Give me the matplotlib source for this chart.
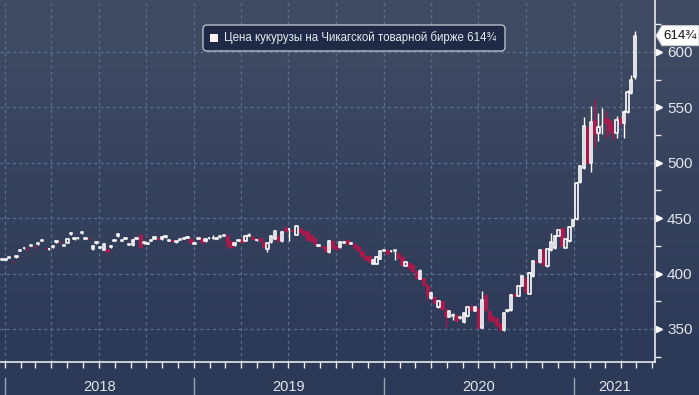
import matplotlib
matplotlib.use('Agg')
import matplotlib.pyplot as plt
import matplotlib.dates as mdates
import matplotlib.ticker as mticker
from matplotlib.patches import Rectangle, FancyBboxPatch, Polygon
from matplotlib.collections import PatchCollection
import numpy as np
import pandas as pd

# ---------------- data (weekly OHLC) ----------------
start_date = '2017-12-27'
opens = [412.4, 412.4, 414.5, 410.8, 415, 420.5, 423, 422.2, 425, 424.2,
         426.8, 429.5, 423.2, 422, 424, 428.6, 428.8, 425, 428, 435.8,
         431.3, 432, 436.7, 431.3, 431.5, 422, 427.6, 423.4, 421.5, 422,
         424, 429.5, 433.5, 429.7, 431.3, 426, 425.5, 431.3, 434.5, 427.6,
         426.8, 429.7, 431.3, 432, 431, 433, 429.7, 429.9, 428.6, 430.6,
         431.5, 432.4, 431.3, 427, 431.5, 432, 429, 432, 432, 431.5,
         433, 434.3, 434.3, 429, 425.5, 429.7, 431.3, 429.7, 434.3, 433,
         430, 432, 428.6, 422, 428.6, 431.5, 434, 429, 441, 440,
         439.5, 435, 441, 438, 438, 435, 432, 425, 424.2, 424.6,
         419.6, 429.7, 424.6, 424, 428, 430, 427, 427, 424.6, 420,
         415.5, 416, 409, 409, 413.4, 420.7, 421.6, 420, 420, 418.7,
         415, 407, 409.6, 408, 402, 395.5, 396, 390, 378, 379,
         369.6, 375, 366, 361, 362, 363, 360, 356, 361.6, 371,
         366.4, 369, 351, 381, 366, 361.5, 360, 355, 349, 366,
         367, 382, 380, 389, 396, 382, 397.6, 411, 410, 422,
         406.4, 421, 423, 434, 441, 423.4, 429, 442.6, 449, 482.8,
         495, 532.7, 500, 538.7, 527, 533, 540, 538.7, 530, 527.3,
         540, 536.3, 546.2, 563.4, 577]
closes = [412.4, 412.4, 414.8, 410.5, 415.3, 420.7, 423.3, 422, 425.3, 424,
          427, 429.7, 423, 422.2, 424.2, 428.8, 428.6, 425.2, 431, 436,
          431.5, 432.2, 436.9, 431.5, 431.3, 425, 427.8, 423.6, 427, 419.8,
          424.2, 429.7, 435.5, 429.9, 431.5, 426.2, 430.6, 431.5, 424, 427.8,
          427, 429.9, 433, 431, 433, 433.2, 429.9, 429.7, 428.8, 430.8,
          431.7, 432.6, 428, 427.2, 431.7, 428.6, 431.5, 432.2, 432.3, 431.7,
          433.2, 434.5, 427.6, 424, 428, 429.9, 428.6, 434.3, 434.8, 431.5,
          430.2, 429.5, 424.3, 427.6, 433.7, 438.7, 429.7, 437.6, 438, 440.3,
          438.5, 442.6, 437.6, 435, 430.6, 429.7, 426.8, 425.2, 424, 420,
          429.7, 423, 422, 428.6, 428.2, 427, 428, 423.4, 420, 415.5,
          412.6, 410.5, 412.6, 415, 420.7, 420.9, 418, 420.3, 421, 414,
          408, 410.5, 405, 402, 396, 402, 390, 381, 382.6, 373.6,
          375.6, 367.6, 361.6, 366, 363, 357.5, 360.3, 364, 369.6, 367,
          370, 351, 376.6, 367, 358.6, 357, 353, 349.5, 364, 367,
          381, 380, 389, 397.6, 383.3, 400.6, 411, 410, 421.6, 408,
          422, 428.6, 433.7, 439, 425.2, 431, 442, 448.6, 482, 496.7,
          533.3, 499.8, 537.2, 526, 532, 533.5, 536.3, 529.7, 528, 538.7,
          536, 546.2, 564.2, 574.8, 614.75]
highs = [413, 413, 415.5, 411.5, 416, 421.5, 424, 423, 426, 425,
         427.5, 430.5, 424, 423, 425, 429.5, 429.5, 426, 431.5, 436.5,
         432, 433, 437.5, 432, 432, 425.5, 428.5, 424, 427.5, 422.5,
         425, 430.5, 436, 430.5, 432, 427, 431, 432, 436.8, 428.5,
         427.5, 430.5, 433.5, 432.5, 433.5, 434, 430.5, 430.5, 429.5, 431.5,
         432.5, 433.5, 432, 428, 432.5, 432.5, 432, 433, 435, 432.5,
         434, 435, 436, 429.5, 428.5, 430.5, 431.8, 434.8, 437, 433.5,
         431, 432.5, 429, 428, 434.2, 439.2, 434.5, 438, 443, 441,
         440, 443, 441.5, 438.5, 438.5, 435.5, 432.5, 426, 425, 425,
         430.2, 430.2, 425, 429, 429, 430.5, 428.5, 427.5, 425, 420.5,
         416, 417, 413, 415.5, 421.2, 421.5, 422, 421, 421.6, 419.2,
         415.5, 411, 410, 408.5, 402.5, 404.2, 396.5, 390.5, 383, 379.5,
         376, 375.5, 369, 366.5, 364, 363.5, 361, 364.5, 370, 371.5,
         370.5, 369.5, 384.6, 381.5, 366.5, 362, 360.5, 355.5, 364.5, 368,
         381.5, 382.5, 389.5, 398, 396.5, 401, 411.5, 411.5, 422, 422.5,
         422.5, 437, 434.2, 439.5, 441.5, 431.5, 442.5, 449, 483, 497.5,
         541.4, 533.5, 551, 557.7, 545, 549, 547, 541, 536, 542,
         541, 548, 566, 579, 619]
lows = [412, 412, 414, 410, 414.5, 420, 422.5, 421.5, 424.5, 423.5,
        426, 429, 422.5, 421.5, 423.5, 428, 428, 424.5, 427.5, 435,
        430.5, 431.5, 436, 430.8, 430.8, 421.5, 427, 423, 421, 419.5,
        423.5, 429, 433, 429, 430.8, 425.5, 425, 430.8, 423.4, 427,
        426.3, 429, 431, 430.5, 430.5, 432.5, 429, 429, 428, 430,
        431, 432, 427.5, 426.5, 431, 426.5, 428.5, 431.5, 431.5, 431,
        432.5, 433.8, 423.4, 423.5, 425, 429, 428, 429.2, 434, 431,
        429.5, 429, 423.8, 419.5, 428, 431, 429.2, 428.5, 437.5, 429,
        438, 434.5, 437, 434.5, 430, 429.2, 426.3, 424.5, 423.5, 419.5,
        419, 422.5, 421.5, 423.5, 427.5, 426.5, 426.5, 423, 419.5, 415,
        412, 410, 408.5, 408.5, 413, 420, 417.5, 419.5, 412.6, 413.5,
        407.5, 406.5, 404.5, 401.5, 395.5, 395, 389.5, 376, 377.5, 373,
        369, 367, 352, 360.5, 358, 357, 359, 355.5, 361, 366.5,
        366, 350.5, 350.5, 366.5, 356, 356.5, 352.5, 349, 348.5, 365.5,
        366.5, 379.5, 379.5, 388.5, 383, 381.5, 397, 409.5, 409.5, 407.5,
        406, 420.5, 422.5, 433.5, 424.7, 423, 428.5, 442, 448.5, 482,
        494.5, 499, 492, 514, 520, 526, 522, 525, 521, 522.5,
        533, 522, 545, 562, 576]

y_ticks = [350, 400, 450, 500, 550, 600]
year_labels = ['2018', '2019', '2020', '2021']
last_label = '614¾'
legend_label = 'Цена кукурузы на Чикагской товарной бирже 614¾'

# ---------------- style ----------------
W, H = 699, 395
UP_EDGE = '#ffffff'
DOWN = '#b0184c'
GRID = '#5b6f8e'
TXT = '#e2e5eb'
AXC = '#e8eaee'
NUM_FONT = ['Liberation Sans Narrow', 'Liberation Sans', 'DejaVu Sans']

dates = pd.date_range(start_date, periods=len(closes), freq='W-WED')
xd = mdates.date2num(dates)

fig = plt.figure(figsize=(W / 100, H / 100), dpi=100)

# background gradient
bg = fig.add_axes([0, 0, 1, 1], zorder=-10)
rows = np.arange(H)
t = np.clip(rows / 362.0, 0, 1)
top = np.array([65, 76, 100]) / 255
bot = np.array([44, 57, 87]) / 255
grad = (top[None, :] * (1 - t[:, None]) + bot[None, :] * t[:, None])[:, None, :]
bg.imshow(grad, aspect='auto', extent=[0, 1, 0, 1], origin='upper')
bg.set_axis_off()

ax_w_px, ax_h_px = 654.5, 362
ax = fig.add_axes([0, (H - ax_h_px) / H, ax_w_px / W, ax_h_px / H])
ax.set_facecolor('none')
px_per_day = 569.5 / 1096.0
x0 = mdates.date2num(pd.Timestamp('2018-01-01')) - 4.5 / px_per_day
ax.set_xlim(x0, x0 + ax_w_px / px_per_day)
ax.set_ylim(320.2, 646.9)

# grid
ax.set_yticks(y_ticks)
ax.yaxis.set_minor_locator(mticker.MultipleLocator(25))
ax.xaxis.set_major_locator(mdates.MonthLocator(bymonth=[1, 4, 7, 10]))
ax.xaxis.set_minor_locator(mdates.MonthLocator())
ax.grid(True, which='major', color=GRID, linestyle=(0, (2.5, 2.5)), linewidth=0.9)
ax.set_axisbelow(True)
ax.xaxis.set_major_formatter(mticker.NullFormatter())
ax.tick_params(axis='x', which='both', direction='out', length=4, width=1,
               color=AXC, labelbottom=False)
ax.yaxis.tick_right()
ax.tick_params(axis='y', which='major', length=0, pad=9, labelcolor=TXT,
               labelsize=11)
ax.tick_params(axis='y', which='minor', length=4, width=1, color=AXC)
for lab in ax.get_yticklabels():
    lab.set_family(NUM_FONT)
for s in ['top', 'left']:
    ax.spines[s].set_visible(False)
for s in ['right', 'bottom']:
    ax.spines[s].set_color(AXC)
    ax.spines[s].set_linewidth(1.2)

# triangles at major y ticks
ytr = ax.get_yaxis_transform()
ax.plot([1 + 4.5 / ax_w_px] * len(y_ticks), y_ticks, linestyle='none',
        marker='>', markersize=5, color='white', transform=ytr, clip_on=False)

# ---------------- candles ----------------
bw_up = 4.6
bw_dn = 6.0
up_rects, dn_rects = [], []
up_wx, up_wy0, up_wy1 = [], [], []
dn_wx, dn_wy0, dn_wy1 = [], [], []
for xi, o, c, h, l in zip(xd, opens, closes, highs, lows):
    if c >= o:
        up_rects.append(Rectangle((xi - bw_up / 2, o), bw_up, max(c - o, 0.5)))
        up_wx += [xi, xi]
        up_wy0 += [max(c, o + 0.5), l]
        up_wy1 += [h, o]
    else:
        dn_rects.append(Rectangle((xi - bw_dn / 2, c), bw_dn, o - c))
        dn_wx.append(xi)
        dn_wy0.append(l)
        dn_wy1.append(h)
ax.vlines(dn_wx, dn_wy0, dn_wy1, color=DOWN, linewidth=1.0, zorder=3)
ax.add_collection(PatchCollection(dn_rects, facecolor=DOWN, edgecolor=DOWN,
                                  linewidth=0.5, zorder=3))
ax.vlines(up_wx, up_wy0, up_wy1, color=UP_EDGE, linewidth=1.0, zorder=4)
ax.add_collection(PatchCollection(up_rects, facecolor='none', edgecolor=UP_EDGE,
                                  linewidth=1.2, zorder=4))

# ---------------- year labels & separators ----------------
xtr = ax.get_xaxis_transform()
years = [int(y) for y in year_labels]
for y in years:
    xs = mdates.date2num(pd.Timestamp(f'{y}-01-01'))
    ax.plot([xs, xs], [-(378 - 362) / ax_h_px, -(395 - 362) / ax_h_px],
            color='#9aa3b4', linewidth=1, transform=xtr, clip_on=False)
xmax = ax.get_xlim()[1]
for lab, y in zip(year_labels, years):
    a = mdates.date2num(pd.Timestamp(f'{y}-01-01'))
    b = min(mdates.date2num(pd.Timestamp(f'{y + 1}-01-01')), xmax)
    ax.text((a + b) / 2, -(387 - 362) / ax_h_px, lab, transform=xtr,
            ha='center', va='center', color=TXT, fontsize=10.5,
            family=NUM_FONT)

# ---------------- legend box ----------------
def fy(ypx):
    return H - ypx

leg = FancyBboxPatch((203, fy(51)), 302, 26,
                     boxstyle='round,pad=0,rounding_size=4',
                     transform=None, facecolor='#1f2b46', edgecolor='#b8bec8',
                     linewidth=1.0, zorder=10)
fig.patches.append(leg)
sq = Rectangle((210, fy(41.5)), 8, 8, transform=None, facecolor='#fff1f1',
               edgecolor='none', zorder=11)
fig.patches.append(sq)
fig.text(224 / W, fy(38) / H, legend_label, color='#e6e9ef', fontsize=8.3,
         ha='left', va='center', family=['Liberation Sans', 'DejaVu Sans'],
         zorder=12)

# ---------------- last price tag ----------------
y_last = closes[-1]
ty = ax.transData.transform((0, y_last))[1]
tag = Polygon([(656, ty), (662, ty + 10), (699, ty + 10), (699, ty - 10),
               (662, ty - 10)], closed=True, transform=None,
              facecolor='#ffffff', edgecolor='#cccccc', linewidth=0.8, zorder=10)
fig.patches.append(tag)
fig.text(680.5 / W, ty / H, last_label, color='#111111', fontsize=9.5,
         ha='center', va='center', family=NUM_FONT, zorder=12)

fig.savefig('out.png', dpi=100)
